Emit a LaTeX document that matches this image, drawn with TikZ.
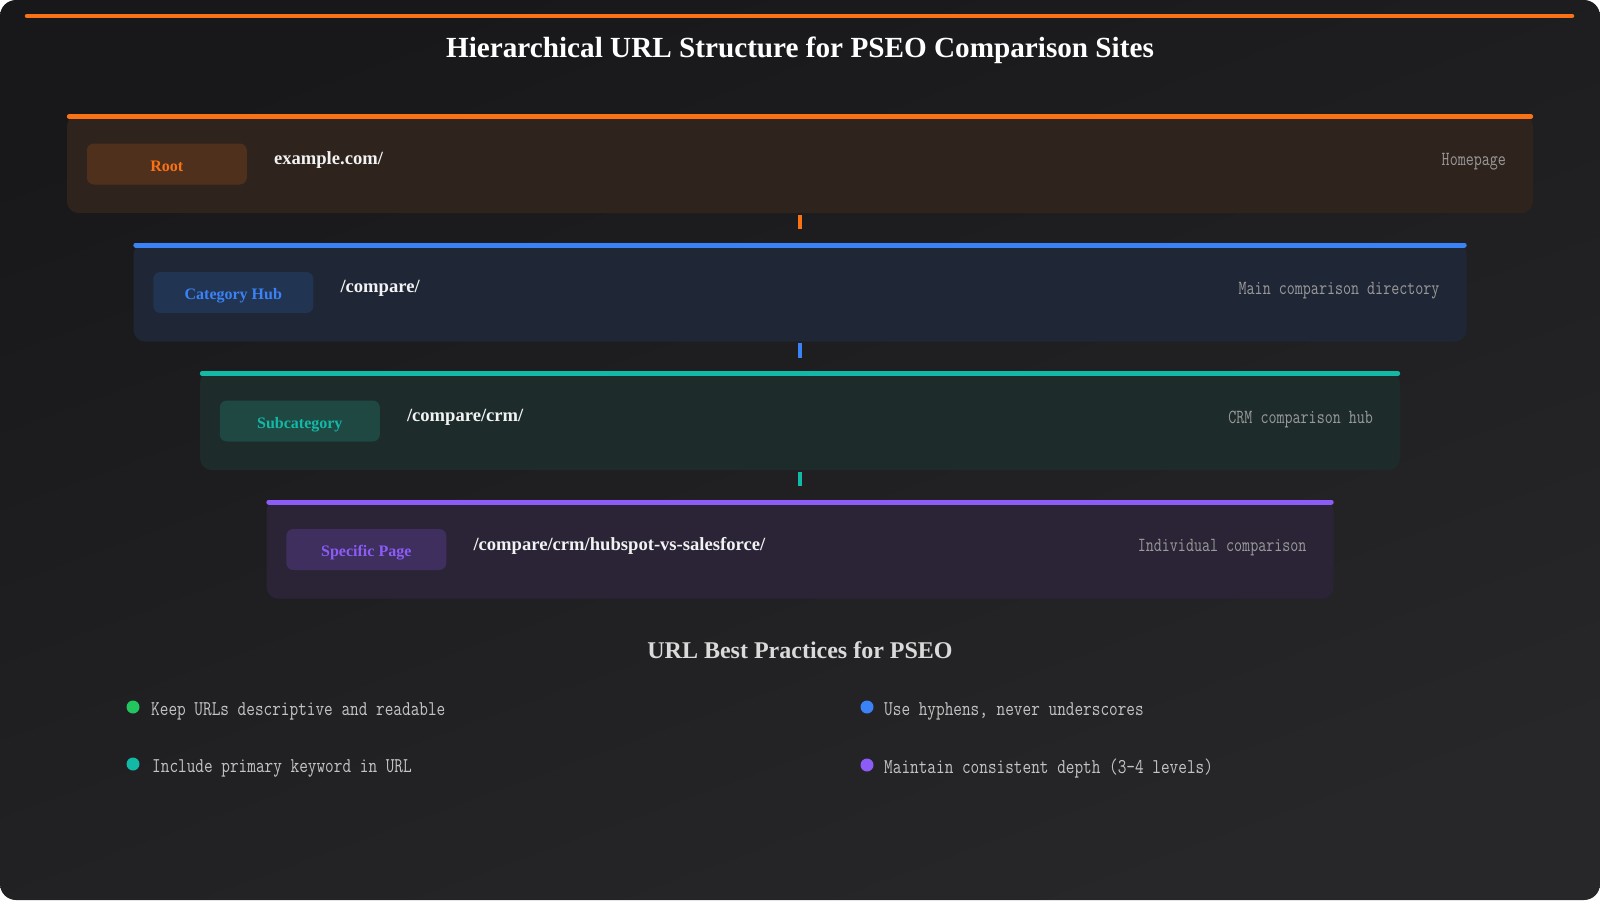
\documentclass[tikz,border=0pt]{standalone}
\usepackage{fontspec}
\setmainfont{Liberation Serif}
\usepackage{graphicx}
\usetikzlibrary{positioning}
\definecolor{cOrange}{HTML}{F97316}
\definecolor{cBlue}{HTML}{3B82F6}
\definecolor{cTeal}{HTML}{14B8A6}
\definecolor{cPurple}{HTML}{8B5CF6}
\definecolor{cGreen}{HTML}{22C55E}
\definecolor{bgA}{HTML}{18181A}
\definecolor{bgB}{HTML}{272729}
\definecolor{boxO}{HTML}{2E231D}
\definecolor{boxB}{HTML}{1F2636}
\definecolor{boxT}{HTML}{1D2B2B}
\definecolor{boxP}{HTML}{2A2436}
\definecolor{badO}{HTML}{4F301D}
\definecolor{badB}{HTML}{213553}
\definecolor{badT}{HTML}{1F4843}
\definecolor{badP}{HTML}{3E2F5E}
\definecolor{descGray}{HTML}{9A9A9A}
\definecolor{bulGray}{HTML}{C4C4C4}
\definecolor{urlWhite}{HTML}{F2F2F2}
\definecolor{subGray}{HTML}{DADADA}
\newcommand{\descfmt}[1]{\scalebox{0.78}[1]{\fontsize{20}{24}\selectfont\ttfamily #1}}
\newcommand{\bulfmt}[1]{\scalebox{0.80}[1]{\fontsize{21}{25}\selectfont\ttfamily #1}}
\tikzset{
  levelbox/.style={rounded corners=12pt, inner sep=0pt, minimum height=99pt, anchor=north},
  badge/.style={rounded corners=7pt, inner sep=0pt, minimum width=160pt, minimum height=41pt,
    text height=14pt, text depth=0pt, font=\fontsize{16}{19}\selectfont\bfseries},
  urltext/.style={anchor=west, inner sep=0pt, text=urlWhite, font=\fontsize{18.6}{22}\selectfont\bfseries},
  desctext/.style={anchor=east, inner sep=0pt, text=descGray},
  topbar/.style={line width=5pt, line cap=round},
  tick/.style={line width=4pt},
  bulletdot/.style={circle, inner sep=0pt, minimum size=13pt},
  bullettext/.style={anchor=west, inner sep=0pt, text=bulGray}
}
\begin{document}
\begin{tikzpicture}[x=1pt,y=-1pt]
\useasboundingbox (0,0) rectangle (1600,900);
\fill[white] (0,0) rectangle (1600,900);
\shade[rounded corners=16pt, top color=bgA, bottom color=bgB, shading angle=20] (0,0) rectangle (1600,900);
% top accent line
\coordinate (tl) at (27,16);
\coordinate (tr) at (1572,16);
\draw[topbar, cOrange, line width=4.5pt] (tl) -- (tr);
\node[text=white, font=\fontsize{29.2}{35}\selectfont\bfseries, inner sep=0pt] (title) at (800,50) {Hierarchical URL Structure for PSEO Comparison Sites};

% level boxes
\node[levelbox, fill=boxO, minimum width=1466pt] (lv1) at (800,114) {};
\node[levelbox, fill=boxB, minimum width=1333pt] (lv2) at (800,242.5) {};
\node[levelbox, fill=boxT, minimum width=1200pt] (lv3) at (800,371) {};
\node[levelbox, fill=boxP, minimum width=1067pt] (lv4) at (800,499.5) {};

% top bars
\draw[topbar, cOrange] ([shift={(2.5,2.5)}]lv1.north west) -- ([shift={(-2.5,2.5)}]lv1.north east);
\draw[topbar, cBlue] ([shift={(2.5,2.5)}]lv2.north west) -- ([shift={(-2.5,2.5)}]lv2.north east);
\draw[topbar, cTeal] ([shift={(2.5,2.5)}]lv3.north west) -- ([shift={(-2.5,2.5)}]lv3.north east);
\draw[topbar, cPurple] ([shift={(2.5,2.5)}]lv4.north west) -- ([shift={(-2.5,2.5)}]lv4.north east);

% badges
\node[badge, fill=badO, text=cOrange] (b1) at ([shift={(100,50)}]lv1.north west) {Root};
\node[badge, fill=badB, text=cBlue] (b2) at ([shift={(100,50)}]lv2.north west) {Category Hub};
\node[badge, fill=badT, text=cTeal] (b3) at ([shift={(100,50)}]lv3.north west) {Subcategory};
\node[badge, fill=badP, text=cPurple] (b4) at ([shift={(100,50)}]lv4.north west) {Specific Page};

% urls
\node[urltext] (u1) at ([shift={(207,46)}]lv1.north west) {example.com/};
\node[urltext] (u2) at ([shift={(207,46)}]lv2.north west) {/compare/};
\node[urltext] (u3) at ([shift={(207,46)}]lv3.north west) {/compare/crm/};
\node[urltext] (u4) at ([shift={(207,46)}]lv4.north west) {/compare/crm/hubspot-vs-salesforce/};

% descriptions
\node[desctext] (d1) at ([shift={(-27,48)}]lv1.north east) {\descfmt{Homepage}};
\node[desctext] (d2) at ([shift={(-27,48)}]lv2.north east) {\descfmt{Main comparison directory}};
\node[desctext] (d3) at ([shift={(-27,48)}]lv3.north east) {\descfmt{CRM comparison hub}};
\node[desctext] (d4) at ([shift={(-27,48)}]lv4.north east) {\descfmt{Individual comparison}};

% connector ticks
\draw[tick, cOrange] ([yshift=-1.5]lv1.south) -- ([yshift=-16]lv1.south);
\draw[tick, cBlue] ([yshift=-1.5]lv2.south) -- ([yshift=-16]lv2.south);
\draw[tick, cTeal] ([yshift=-1.5]lv3.south) -- ([yshift=-16]lv3.south);

% best practices
\node[text=subGray, font=\fontsize{24}{29}\selectfont\bfseries, inner sep=0pt] (bp) at (800,650) {URL Best Practices for PSEO};

\node[bulletdot, fill=cGreen] (p1) at (133,707) {};
\node[bullettext] (t1) at (151,711) {\bulfmt{Keep URLs descriptive and readable}};
\node[bulletdot, fill=cTeal] (p2) at (133,764) {};
\node[bullettext] (t2) at (152,768) {\bulfmt{Include primary keyword in URL}};
\node[bulletdot, fill=cBlue] (p3) at (867,707) {};
\node[bullettext] (t3) at (884,711) {\bulfmt{Use hyphens, never underscores}};
\node[bulletdot, fill=cPurple] (p4) at (867,765) {};
\node[bullettext] (t4) at (884,769) {\bulfmt{Maintain consistent depth (3-4 levels)}};
\end{tikzpicture}
\end{document}
